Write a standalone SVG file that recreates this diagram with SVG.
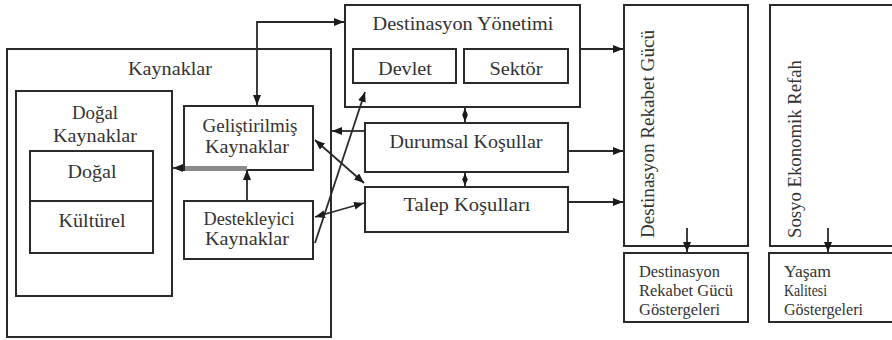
<svg xmlns="http://www.w3.org/2000/svg" width="892" height="340" viewBox="0 0 892 340">
<style>
.b{fill:none;stroke:#2a2a2a;stroke-width:2}
.t{font-family:"Liberation Serif","DejaVu Serif","Noto Serif","Times New Roman",serif;font-size:19px;fill:#333;text-anchor:middle}
.s{font-family:"Liberation Serif","DejaVu Serif","Noto Serif","Times New Roman",serif;font-size:16px;fill:#333}
.c{fill:none;stroke:#2a2a2a;stroke-width:1.8}
</style>
<defs>
<marker id="a" viewBox="0 0 10 8" refX="10" refY="4" markerWidth="10" markerHeight="8" markerUnits="userSpaceOnUse" orient="auto-start-reverse"><path d="M0,0 L10,4 L0,8 z" fill="#1a1a1a"/></marker>
<marker id="m" viewBox="0 0 10 8" refX="10" refY="4" markerWidth="7" markerHeight="6" markerUnits="userSpaceOnUse" orient="auto-start-reverse"><path d="M0,0 L10,4 L0,8 z" fill="#1a1a1a"/></marker>
</defs>
<rect width="892" height="340" fill="#fff"/>
<g id="kaynaklar">
<rect class="b" x="7" y="49" width="324" height="288"/>
<text class="t" x="170" y="75" textLength="84" lengthAdjust="spacingAndGlyphs">Kaynaklar</text>
</g>
<g id="dogal-kaynaklar">
<rect class="b" x="16" y="91" width="156" height="205"/>
<text class="t" x="95" y="119" textLength="46" lengthAdjust="spacingAndGlyphs">Doğal</text>
<text class="t" x="95" y="142" textLength="84" lengthAdjust="spacingAndGlyphs">Kaynaklar</text>
</g>
<g id="dogal-kulturel">
<rect class="b" x="30" y="151" width="123" height="102"/>
<line class="b" x1="30" y1="201" x2="153" y2="201"/>
<text class="t" x="92" y="178" textLength="49" lengthAdjust="spacingAndGlyphs">Doğal</text>
<text class="t" x="92" y="227" textLength="67" lengthAdjust="spacingAndGlyphs">Kültürel</text>
</g>
<g id="gelistirilmis">
<rect class="b" x="184" y="106" width="129" height="64"/>
<rect x="185" y="166" width="62" height="5" fill="#8a8a8a"/>
<text class="t" x="250" y="132" textLength="95" lengthAdjust="spacingAndGlyphs">Geliştirilmiş</text>
<text class="t" x="247" y="153" textLength="84" lengthAdjust="spacingAndGlyphs">Kaynaklar</text>
</g>
<g id="destekleyici">
<rect class="b" x="184" y="201" width="129" height="58"/>
<text class="t" x="249" y="225" textLength="91" lengthAdjust="spacingAndGlyphs">Destekleyici</text>
<text class="t" x="247" y="245" textLength="84" lengthAdjust="spacingAndGlyphs">Kaynaklar</text>
</g>
<g id="destinasyon-yonetimi">
<rect class="b" x="345" y="5" width="235" height="102"/>
<text class="t" x="463" y="30" textLength="181" lengthAdjust="spacingAndGlyphs">Destinasyon Yönetimi</text>
</g>
<g id="devlet">
<rect class="b" x="353" y="49" width="103" height="34"/>
<text class="t" x="405" y="75" textLength="54" lengthAdjust="spacingAndGlyphs">Devlet</text>
</g>
<g id="sektor">
<rect class="b" x="464" y="49" width="104" height="34"/>
<text class="t" x="516" y="75" textLength="53" lengthAdjust="spacingAndGlyphs">Sektör</text>
</g>
<g id="durumsal">
<rect class="b" x="365" y="123" width="203" height="49"/>
<text class="t" x="466" y="148" textLength="153" lengthAdjust="spacingAndGlyphs">Durumsal Koşullar</text>
</g>
<g id="talep">
<rect class="b" x="365" y="187" width="203" height="45"/>
<text class="t" x="467" y="211" textLength="127" lengthAdjust="spacingAndGlyphs">Talep Koşulları</text>
</g>
<g id="rekabet-gucu">
<rect class="b" x="624" y="5" width="124" height="241"/>
<text class="t" style="text-anchor:start" transform="translate(654,238) rotate(-90)" textLength="208" lengthAdjust="spacingAndGlyphs">Destinasyon Rekabet Gücü</text>
</g>
<g id="rekabet-gostergeleri">
<rect class="b" x="624" y="253" width="124" height="69"/>
<text class="s" x="639" y="277" textLength="81" lengthAdjust="spacingAndGlyphs">Destinasyon</text>
<text class="s" x="639" y="296" textLength="94" lengthAdjust="spacingAndGlyphs">Rekabet Gücü</text>
<text class="s" x="639" y="315" textLength="81" lengthAdjust="spacingAndGlyphs">Göstergeleri</text>
</g>
<g id="sosyo-ekonomik">
<rect class="b" x="770" y="5" width="130" height="241"/>
<text class="t" style="text-anchor:start" transform="translate(801,238) rotate(-90)" textLength="178" lengthAdjust="spacingAndGlyphs">Sosyo Ekonomik Refah</text>
</g>
<g id="yasam-kalitesi">
<rect class="b" x="769" y="253" width="130" height="69"/>
<text class="s" x="784" y="277" textLength="47" lengthAdjust="spacingAndGlyphs">Yaşam</text>
<text class="s" x="784" y="296" textLength="43" lengthAdjust="spacingAndGlyphs">Kalitesi</text>
<text class="s" x="784" y="315" textLength="79" lengthAdjust="spacingAndGlyphs">Göstergeleri</text>
</g>
<g id="connectors">
<path class="c" d="M257,105 L257,22 L344,22" marker-start="url(#a)" marker-end="url(#a)"/>
<path class="c" d="M185,168 L173,168" marker-end="url(#a)"/>
<path class="c" d="M247,201 L247,170" marker-end="url(#a)"/>
<path class="c" d="M364,131 L332,131" marker-end="url(#a)"/>
<path class="c" d="M315,140 L364,183" marker-start="url(#a)" marker-end="url(#a)"/>
<path class="c" d="M315,217 L364,203" marker-start="url(#a)" marker-end="url(#a)"/>
<path class="c" d="M315,243 L365,92" marker-end="url(#a)"/>
<path class="c" d="M465,108 L465,122" marker-start="url(#m)" marker-end="url(#m)"/>
<path class="c" d="M465,173 L465,186" marker-start="url(#m)" marker-end="url(#m)"/>
<path class="c" d="M581,49 L623,49" marker-end="url(#a)"/>
<path class="c" d="M569,151 L623,151" marker-end="url(#a)"/>
<path class="c" d="M569,202 L623,202" marker-end="url(#a)"/>
<path class="c" d="M687,228 L687,252" marker-end="url(#a)"/>
<path class="c" d="M828,228 L828,252" marker-end="url(#a)"/>
</g>
</svg>
